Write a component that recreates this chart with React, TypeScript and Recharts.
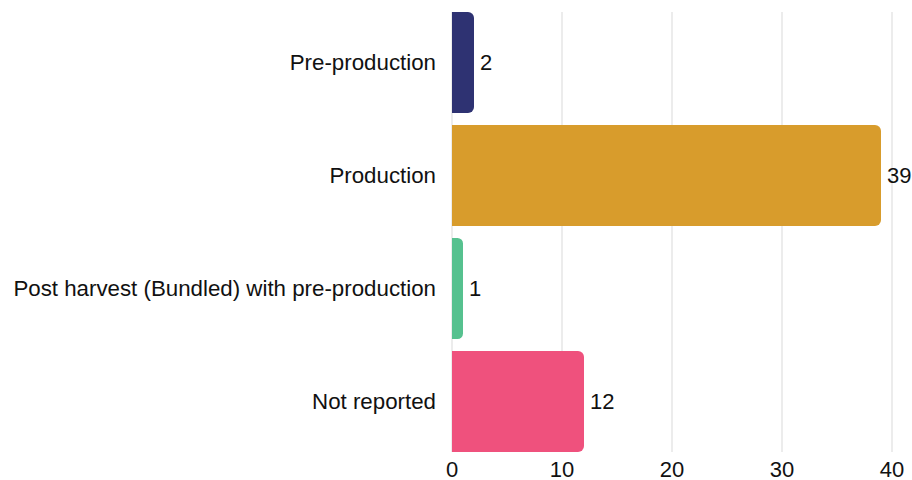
import { BarChart, Bar, XAxis, YAxis, CartesianGrid, Cell, LabelList } from "recharts"

const stages = [
  "Pre-production",
  "Production",
  "Post harvest (Bundled) with pre-production",
  "Not reported",
]
const counts = [2, 39, 1, 12]
const stageColors = ["#2E3272", "#D89C2C", "#56C18F", "#EF517D"]
const xTicks = [0, 10, 20, 30, 40]

const data = stages.map((stage, i) => ({ stage, count: counts[i] }))

const font = "Arial, 'Liberation Sans', sans-serif"

export default function App() {
  return (
    <div style={{ position: "absolute", top: 0, left: 0, fontFamily: font }}>
      <BarChart
        layout="vertical"
        width={912}
        height={480}
        data={data}
        margin={{ top: 6, right: 20, bottom: 0, left: 0 }}
        barCategoryGap={6}
      >
        <CartesianGrid
          horizontal={false}
          stroke="#e6e6e6"
          strokeWidth={1.5}
          y={12}
          height={440}
        />
        <XAxis
          type="number"
          domain={[0, 40]}
          ticks={xTicks}
          axisLine={false}
          tickLine={false}
          tickSize={0}
          tickMargin={3}
          height={22}
          tick={{ fill: "#111", fontSize: 22, fontFamily: font }}
        />
        <YAxis
          type="category"
          dataKey="stage"
          width={452}
          axisLine={false}
          tickLine={false}
          tickSize={0}
          tickMargin={16}
          tick={{ fill: "#111", fontSize: 22.3, fontFamily: font }}
        />
        <Bar dataKey="count" radius={[0, 6, 6, 0]} isAnimationActive={false}>
          {data.map((d, i) => (
            <Cell key={d.stage} fill={stageColors[i]} />
          ))}
          <LabelList
            dataKey="count"
            position="right"
            offset={6}
            fill="#111"
            fontSize={22}
            fontFamily={font}
          />
        </Bar>
      </BarChart>
    </div>
  )
}
